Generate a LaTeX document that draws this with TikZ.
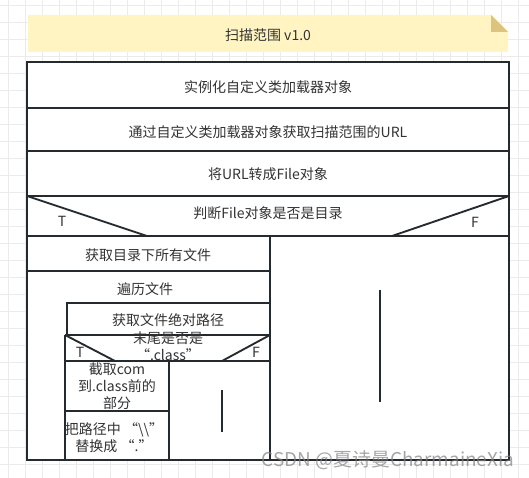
\documentclass[tikz,border=0pt]{standalone}
\usepackage{fontspec}
\setmainfont{Noto Sans CJK SC}
\usepackage{tikz}
\usetikzlibrary{positioning}
\definecolor{gridcol}{HTML}{EBEBEB}
\definecolor{notefill}{HTML}{FFF4C2}
\definecolor{notefold}{HTML}{DCC47E}
\definecolor{linecol}{HTML}{252A2F}
\definecolor{textcol}{HTML}{333333}
\tikzset{
gridline/.style={ % Background grid
draw=gridcol,
line width=0.6pt},
nsline/.style={ % Lines of the structure chart
draw=linecol,
line width=1.4pt},
blocktext/.style={ % Text inside the blocks
text=textcol,
inner sep=0pt,
align=center,
font=\fontsize{10.5}{12.8}\selectfont},
tfmark/.style={ % T / F markers
blocktext,
font=\fontsize{10.5}{12}\selectfont}}

\begin{document}
\begin{tikzpicture}[x=0.75pt,y=-0.75pt]
\useasboundingbox (0,0) rectangle (529,478);
\fill[white] (0,0) rectangle (529,478);
\foreach \gx in {8,25,...,525} \draw[gridline] (\gx,0) -- (\gx,478);
\foreach \gy in {5,22,...,478} \draw[gridline] (0,\gy) -- (529,\gy);
% title note
\fill[notefill] (28,15) -- (491,15) -- (508,32) -- (508,52) -- (28,52) -- cycle;
\fill[notefold] (491,15) -- (491,32) -- (508,32) -- cycle;
\node[blocktext] (title) at (268,35) {扫描范围 v1.0};
% outer chart
\draw[nsline, fill=white] (27,62) rectangle (509,460);
\draw[nsline] (27,108) -- (509,108);
\draw[nsline] (27,151) -- (509,151);
\draw[nsline] (27,196) -- (509,196);
\draw[nsline] (27,236) -- (509,236);
\draw[nsline] (27,196) -- (147,236);
\draw[nsline] (509,196) -- (392,236);
\draw[nsline] (270,236) -- (270,460);
\draw[nsline] (27,271) -- (270,271);
% loop body
\draw[nsline] (67,335) -- (67,303) -- (270,303);
\draw[nsline] (65,335) -- (270,335);
\draw[nsline] (65,335) -- (65,460);
\draw[nsline] (65,335) -- (115,361);
\draw[nsline] (270,335) -- (222,361);
\draw[nsline] (65,361) -- (270,361);
\draw[nsline] (169,361) -- (169,460);
\draw[nsline] (65,411) -- (169,411);
% empty branches
\draw[nsline] (222,390) -- (222,432);
\draw[nsline] (380,290) -- (380,402);
% texts
\node[blocktext] (inst) at (268,87) {实例化自定义类加载器对象};
\node[blocktext] (url) at (268,132) {通过自定义类加载器对象获取扫描范围的URL};
\node[blocktext] (file) at (268,174) {将URL转成File对象};
\node[blocktext] (isdir) at (268,213) {判断File对象是否是目录};
\node[tfmark] (isdirT) at (62,221) {T};
\node[tfmark] (isdirF) at (475,222) {F};
\node[blocktext] (list) at (148,255) {获取目录下所有文件};
\node[blocktext] (loop) at (145,289) {遍历文件};
\node[blocktext] (path) at (168,320) {获取文件绝对路径};
\node[blocktext] (isclass) at (168,346) {末尾是否是\\“.class”};
\node[tfmark] (isclassT) at (80,352) {T};
\node[tfmark] (isclassF) at (256,352) {F};
\node[blocktext] (cut) at (117,386) {截取com\\到.class前的\\部分};
\node[blocktext] (repl) at (114,438) {把路径中 “\textbackslash\textbackslash”\\替换成 “.”};
% watermark
\node[text=gray, opacity=0.7, inner sep=0pt, font=\fontsize{14.2}{15}\selectfont] (wm) at (388,460) {CSDN @夏诗曼CharmaineXia};
\end{tikzpicture}
\end{document}
